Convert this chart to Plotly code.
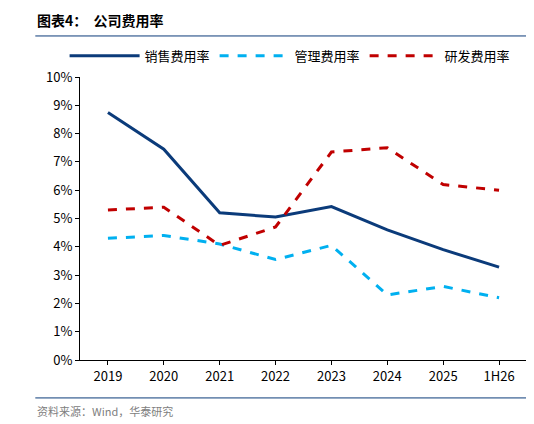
import plotly.graph_objects as go

years = ["2019", "2020", "2021", "2022", "2023", "2024", "2025", "1H26"]
sales = [8.75, 7.45, 5.2, 5.05, 5.42, 4.6, 3.9, 3.28]
admin = [4.3, 4.4, 4.1, 3.55, 4.05, 2.3, 2.6, 2.2]
rnd = [5.3, 5.4, 4.05, 4.7, 7.35, 7.5, 6.2, 6.0]

fig = go.Figure()
fig.add_trace(go.Scatter(x=years, y=sales, name="销售费用率", mode="lines",
                         line=dict(color="#0B3B7A", width=3)))
fig.add_trace(go.Scatter(x=years, y=admin, name="管理费用率", mode="lines",
                         line=dict(color="#00B0F0", width=3, dash="dash")))
fig.add_trace(go.Scatter(x=years, y=rnd, name="研发费用率", mode="lines",
                         line=dict(color="#C00000", width=3, dash="dash")))

fig.update_layout(
    width=526, height=416,
    margin=dict(l=72, r=7, t=69, b=64),
    plot_bgcolor="white", paper_bgcolor="white",
    font=dict(family="Noto Sans CJK SC", size=13, color="black"),
    showlegend=True,
    legend=dict(orientation="h", x=0.47, xanchor="center", y=1.075, yanchor="middle",
                font=dict(size=13), itemwidth=70),
    xaxis=dict(showline=True, linecolor="black", ticks="outside", ticklen=4,
               tickcolor="black", showgrid=False, range=[-0.5, 7.5]),
    yaxis=dict(range=[0, 10], dtick=1, ticksuffix="%", showline=True, linecolor="black",
               ticks="outside", ticklen=4, tickcolor="black", showgrid=False),
    shapes=[
        dict(type="line", xref="paper", yref="paper", x0=-0.10, x1=1.0, y0=1.145, y1=1.145,
             line=dict(color="#0B3B7A", width=1)),
        dict(type="line", xref="paper", yref="paper", x0=-0.10, x1=1.0, y0=-0.134, y1=-0.134,
             line=dict(color="#0B3B7A", width=1)),
    ],
    annotations=[
        dict(text="<b>图表4：  公司费用率</b>", xref="paper", yref="paper", x=-0.10, y=1.20,
             xanchor="left", yanchor="middle", showarrow=False, font=dict(size=14)),
        dict(text="资料来源：Wind，华泰研究", xref="paper", yref="paper", x=-0.10, y=-0.18,
             xanchor="left", yanchor="middle", showarrow=False,
             font=dict(size=11, color="#808080")),
    ],
)

fig.write_html("out.html")
